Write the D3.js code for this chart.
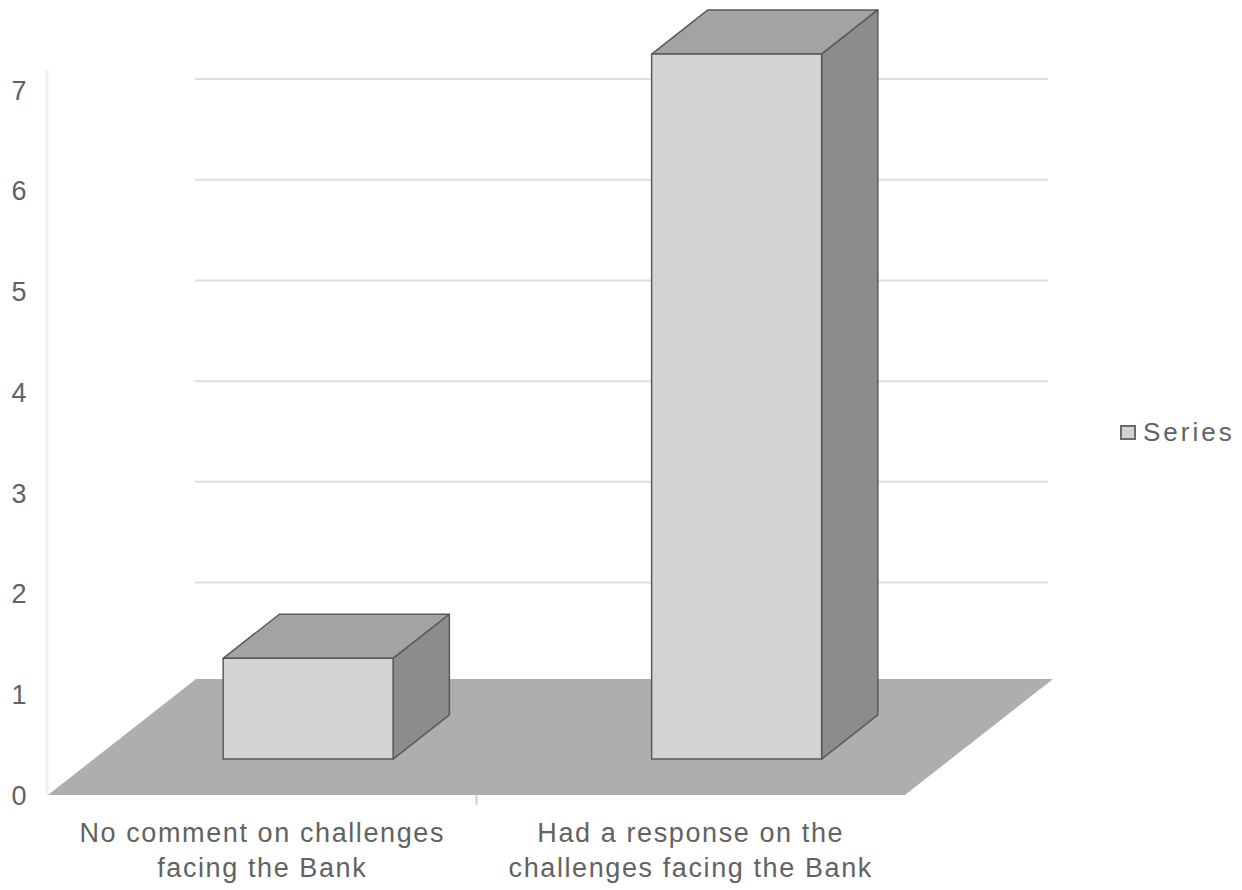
<!DOCTYPE html>
<html>
<head>
<meta charset="utf-8">
<script src="https://cdn.jsdelivr.net/npm/d3@7"></script>
<style>
    body { margin: 0; background: #fff; }
    svg text { font-family: "Liberation Sans", Arial, sans-serif; fill: #626262; }
</style>
</head>
<body>
<div id="chart"></div>
<script>
// chart data
const categories = ["No comment on challenges facing the Bank", "Had a response on the challenges facing the Bank"];
const categoryLines = [["No comment on challenges", "facing the Bank"], ["Had a response on the", "challenges facing the Bank"]];
const values = [1, 7];
const yTicks = [0, 1, 2, 3, 4, 5, 6, 7];
const seriesName = "Series";

const width = 1242, height = 890;

const svg = d3.select("#chart").append("svg")
    .attr("width", width)
    .attr("height", height);

// front plane scales
const x = d3.scaleBand().domain(categories).range([48, 905]);
const y = d3.scaleLinear().domain([0, 7]).range([795, 90]);

// oblique depth vector (full floor depth)
const depth = { dx: 148, dy: -116 };
const proj = (px, v, z) => [px + z * depth.dx, y(v) + z * depth.dy];

// bar placement in depth and width
const barZ0 = 0.31, barZ1 = 0.69, barW = 170;

// gridlines (drawn behind everything)
svg.append("g").selectAll("line")
    .data(yTicks.filter(d => d > 0))
    .join("line")
    .attr("x1", 195)
    .attr("x2", 1048)
    .attr("y1", d => y(d) - 11)
    .attr("y2", d => y(d) - 11)
    .attr("stroke", "#dedede")
    .attr("stroke-width", 2);

// faint axis wall line
svg.append("line")
    .attr("x1", 47).attr("x2", 47)
    .attr("y1", 70).attr("y2", 795)
    .attr("stroke", "#f0f0f0")
    .attr("stroke-width", 3);

// floor
const floorPts = [proj(48, 0, 0), proj(905, 0, 0), proj(905, 0, 1), proj(48, 0, 1)];
svg.append("polygon")
    .attr("points", floorPts.map(p => p.join(",")).join(" "))
    .attr("fill", "#aeaeae");

// tick between categories
svg.append("line")
    .attr("x1", x(categories[1])).attr("x2", x(categories[1]))
    .attr("y1", 795).attr("y2", 805)
    .attr("stroke", "#d0d0d0")
    .attr("stroke-width", 2);

// bars
const bars = svg.append("g").selectAll("g")
    .data(categories.map((c, i) => ({ cat: c, val: values[i] })))
    .join("g");

const pts = arr => arr.map(p => p.join(",")).join(" ");
const left = d => x(d.cat) + x.bandwidth() / 2 - barW / 2;

// top face
bars.append("polygon")
    .attr("points", d => {
        const l = left(d), r = l + barW;
        return pts([proj(l, d.val, barZ0), proj(r, d.val, barZ0), proj(r, d.val, barZ1), proj(l, d.val, barZ1)]);
    })
    .attr("fill", "#a3a3a3")
    .attr("stroke", "#5a5a5a")
    .attr("stroke-width", 1.5)
    .attr("stroke-linejoin", "round");

// side face
bars.append("polygon")
    .attr("points", d => {
        const r = left(d) + barW;
        return pts([proj(r, 0, barZ0), proj(r, d.val, barZ0), proj(r, d.val, barZ1), proj(r, 0, barZ1)]);
    })
    .attr("fill", "#8c8c8c")
    .attr("stroke", "#5a5a5a")
    .attr("stroke-width", 1.5)
    .attr("stroke-linejoin", "round");

// front face
bars.append("polygon")
    .attr("points", d => {
        const l = left(d), r = l + barW;
        return pts([proj(l, 0, barZ0), proj(r, 0, barZ0), proj(r, d.val, barZ0), proj(l, d.val, barZ0)]);
    })
    .attr("fill", "#d3d3d3")
    .attr("stroke", "#5a5a5a")
    .attr("stroke-width", 1.5)
    .attr("stroke-linejoin", "round");

// y tick labels
svg.append("g").selectAll("text")
    .data(yTicks)
    .join("text")
    .attr("x", 19)
    .attr("y", d => y(d))
    .attr("dy", "0.36em")
    .attr("text-anchor", "middle")
    .attr("font-size", 27)
    .text(d => d);

// category labels
const catLabels = svg.append("g").selectAll("text")
    .data(categories)
    .join("text")
    .attr("text-anchor", "middle")
    .attr("font-size", 27)
    .attr("letter-spacing", 1.6);

catLabels.selectAll("tspan")
    .data((d, i) => categoryLines[i].map(line => ({ line, cat: d })))
    .join("tspan")
    .attr("x", d => x(d.cat) + x.bandwidth() / 2)
    .attr("y", (d, j) => 842 + j * 35)
    .text(d => d.line);

// legend
const legend = svg.append("g");
legend.append("rect")
    .attr("x", 1121).attr("y", 426)
    .attr("width", 14).attr("height", 13)
    .attr("fill", "#d3d3d3")
    .attr("stroke", "#6b6b6b")
    .attr("stroke-width", 2);
legend.append("text")
    .attr("x", 1143)
    .attr("y", 432)
    .attr("dy", "0.36em")
    .attr("font-size", 26)
    .attr("letter-spacing", 3)
    .text(seriesName);
</script>
</body>
</html>
